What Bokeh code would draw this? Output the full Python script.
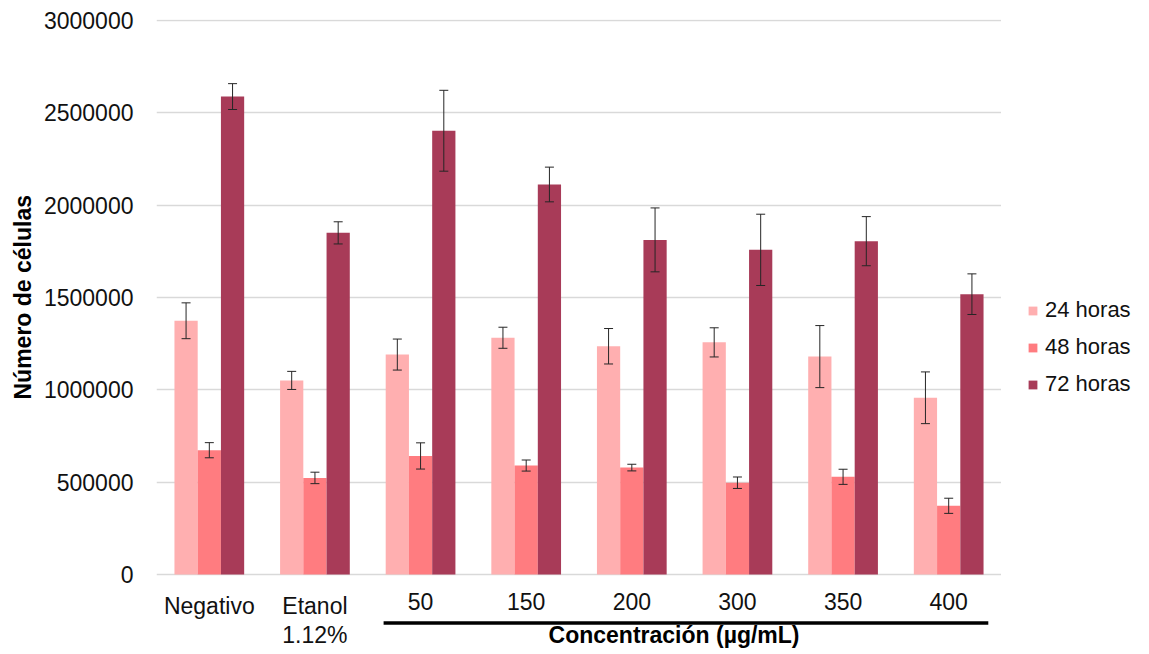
from bokeh.plotting import figure
from bokeh.layouts import row
from bokeh.models import (ColumnDataSource, FactorRange, Range1d, Whisker, TeeHead, Legend,
                          LegendItem, FixedTicker, NumeralTickFormatter, Title)
from bokeh.transform import dodge
from bokeh.core.properties import value
from bokeh.embed import file_html
from bokeh.resources import INLINE

# ---------------- data ----------------
categories = ["Negativo", "Etanol\n1.12%", "50", "150", "200", "300", "350", "400"]
series_labels = ["24 horas", "48 horas", "72 horas"]

h24 = [1374000, 1051000, 1191000, 1282000, 1236000, 1257000, 1180000, 957000]
h24_err = [97000, 49000, 84000, 57000, 96000, 79000, 168000, 140000]

h48 = [673000, 523000, 642000, 590000, 579000, 497000, 529000, 372000]
h48_err = [41000, 31000, 71000, 30000, 18000, 31000, 41000, 41000]

h72 = [2588000, 1850000, 2403000, 2112000, 1812000, 1758000, 1805000, 1518000]
h72_err = [70000, 60000, 219000, 94000, 173000, 193000, 133000, 110000]

y_ticks = [0, 500000, 1000000, 1500000, 2000000, 2500000, 3000000]
x_group_label = "Concentración  (µg/mL)"
y_title = "Número de células"

colors = ["#FFAFB0", "#FF7C80", "#A83B58"]
FONT = "Liberation Sans"

data = dict(cat=categories)
for key, vals, errs in (("h24", h24, h24_err), ("h48", h48, h48_err), ("h72", h72, h72_err)):
    data[key] = vals
    data[key + "_up"] = [v + e for v, e in zip(vals, errs)]
    data[key + "_lo"] = [v - e for v, e in zip(vals, errs)]
src = ColumnDataSource(data=data)

# ---------------- main figure ----------------
# the frame is extended below zero so that the category labels, the bracket and
# the group title (drawn as text glyphs) are not clipped
H = 650
px = 3000000 / 554.0
p = figure(x_range=FactorRange(*categories, range_padding=0),
           y_range=Range1d(-(H - 574) * px, 3000000 + 1 * px),
           width=1001, height=H,
           output_backend="svg", toolbar_location=None,
           min_border_left=156, min_border_right=0,
           min_border_top=19, min_border_bottom=0)
p.outline_line_color = None
p.background_fill_color = "white"
p.border_fill_color = "white"

bar_w = 0.22
offsets = [-bar_w, 0.0, bar_w]
keys = ["h24", "h48", "h72"]
for key, off, col in zip(keys, offsets, colors):
    p.vbar(x=dodge("cat", off, range=p.x_range), top=key, width=bar_w,
           source=src, fill_color=col, line_color=None)
    w = Whisker(base=dodge("cat", off, range=p.x_range), upper=key + "_up",
                lower=key + "_lo", source=src, level="annotation",
                line_color="#262626", line_width=1,
                upper_head=TeeHead(size=9, line_color="#262626", line_width=1),
                lower_head=TeeHead(size=9, line_color="#262626", line_width=1))
    p.add_layout(w)

# ---------------- axes ----------------
p.xaxis.visible = False
p.yaxis.ticker = FixedTicker(ticks=y_ticks)
p.yaxis.formatter = NumeralTickFormatter(format="0")
p.yaxis.axis_line_color = None
p.yaxis.major_tick_line_color = None
p.yaxis.minor_tick_line_color = None
p.yaxis.major_tick_out = 0
p.yaxis.major_tick_in = 0
p.yaxis.major_label_standoff = 23
p.yaxis.major_label_text_font = FONT
p.yaxis.major_label_text_font_size = "23px"
p.yaxis.major_label_text_color = "#111111"

ytitle = Title(text=y_title, align="left", offset=251, standoff=9,
               text_font=FONT, text_font_size="23px", text_font_style="bold",
               text_color="#000000")
p.add_layout(ytitle, "left")

p.xgrid.grid_line_color = None
p.ygrid.ticker = FixedTicker(ticks=y_ticks)
p.ygrid.grid_line_color = "#D9D9D9"
p.ygrid.grid_line_width = 1.3

# ---------------- category labels, bracket, group title ----------------
p.text(x="cat", y=-18 * px, text="cat", source=src,
       text_font=value(FONT), text_font_size=value("23px"), text_color="#111111",
       text_align="center", text_baseline="top", text_line_height=1.15)

i50 = categories.index("50")
p.segment(x0=i50 + 0.15, x1=len(categories) - 0.125, y0=-48.5 * px, y1=-48.5 * px,
          line_width=3.5, line_color="#000000")
p.text(x=[4.93], y=[-47 * px], text=[x_group_label],
       text_font=value(FONT), text_font_size=value("23px"), text_font_style="bold",
       text_color="#000000", text_align="center", text_baseline="top")

# ---------------- legend in a companion figure ----------------
q = figure(width=140, height=H, x_range=Range1d(0, 1), y_range=Range1d(0, 1),
           output_backend="svg", toolbar_location=None,
           min_border_left=0, min_border_right=0, min_border_top=0, min_border_bottom=0)
q.axis.visible = False
q.grid.visible = False
q.outline_line_color = None
q.background_fill_color = "white"
q.border_fill_color = "white"
# one swatch glyph per series, placed outside the visible range (only the legend shows it)
swatches = [q.vbar(x=[-5], top=[-5], width=1, fill_color=col, line_color=None) for col in colors]

legend = Legend(items=[LegendItem(label=lab, renderers=[r], index=0) for lab, r in zip(series_labels, swatches)],
                location=(26, 253), margin=0, padding=0,
                glyph_width=11, glyph_height=11, label_standoff=7,
                label_height=25, spacing=11,
                label_text_font=FONT, label_text_font_size="22px",
                label_text_color="#111111",
                border_line_color=None, background_fill_alpha=0)
q.add_layout(legend)

layout = row(p, q)
open("out.html", "w").write(file_html(layout, INLINE))
